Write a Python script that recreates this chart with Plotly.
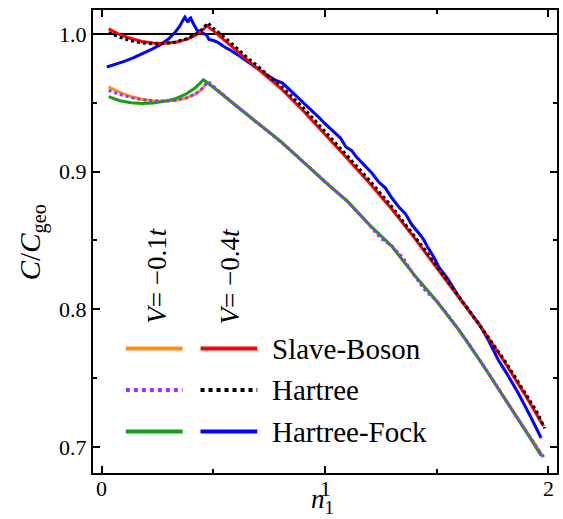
import plotly.graph_objects as go

# ---------------- data ----------------
# V = -0.4t
sb04_x = [0.03, 0.08, 0.13, 0.18, 0.23, 0.28, 0.33, 0.38, 0.42, 0.45, 0.47, 0.50, 0.60, 0.70, 0.80,
          0.90, 1.00, 1.10, 1.20, 1.30, 1.40, 1.50, 1.60, 1.70, 1.80, 1.90, 1.98]
sb04_y = [1.0036, 0.9995, 0.9967, 0.9945, 0.9934, 0.9932, 0.9940, 0.9960, 0.9990, 1.0025, 1.0060, 1.0022,
          0.9884, 0.9745, 0.9607, 0.9446, 0.9272, 0.9095, 0.8915, 0.8726, 0.8520, 0.8305, 0.8088, 0.7869,
          0.7630, 0.7371, 0.7150]

h04_x = [0.03, 0.08, 0.13, 0.18, 0.23, 0.28, 0.33, 0.38, 0.42, 0.45, 0.475, 0.50, 0.55, 0.60, 0.65, 0.70,
         0.75, 0.80, 0.85, 0.90, 0.95, 1.00, 1.05, 1.10, 1.15, 1.20, 1.25, 1.30, 1.35, 1.40, 1.45, 1.50,
         1.55, 1.60, 1.65, 1.70, 1.75, 1.80, 1.85, 1.90, 1.95, 1.985]
h04_y = [1.0010, 0.9975, 0.9950, 0.9935, 0.9928, 0.9930, 0.9942, 0.9965, 0.9998, 1.0035, 1.0080, 1.0040,
         0.9975, 0.9900, 0.9830, 0.9765, 0.9690, 0.9625, 0.9545, 0.9468, 0.9380, 0.9292, 0.9208, 0.9120,
         0.9025, 0.8935, 0.8838, 0.8745, 0.8638, 0.8535, 0.8428, 0.8315, 0.8205, 0.8095, 0.7982, 0.7870,
         0.7755, 0.7640, 0.7515, 0.7385, 0.7255, 0.7135]

hf04_x = [0.022, 0.06, 0.10, 0.14, 0.18, 0.22, 0.26, 0.30, 0.33, 0.35, 0.365, 0.372, 0.38, 0.386, 0.392,
          0.398, 0.405, 0.415, 0.425, 0.44, 0.455, 0.47, 0.48, 0.50, 0.52, 0.55, 0.58, 0.62, 0.66, 0.70,
          0.74, 0.78, 0.81, 0.84, 0.87, 0.90, 0.94, 0.97, 1.00, 1.04, 1.07, 1.094, 1.12, 1.14, 1.18,
          1.21, 1.24, 1.27, 1.30, 1.33, 1.36, 1.39, 1.42, 1.44, 1.46, 1.49, 1.51, 1.55, 1.60, 1.643,
          1.69, 1.732, 1.777, 1.82, 1.866, 1.92, 1.969]
hf04_y = [0.9760, 0.9778, 0.9800, 0.9826, 0.9853, 0.9885, 0.9920, 0.9965, 1.0015, 1.0060, 1.0105, 1.0122,
          1.0098, 1.0085, 1.0110, 1.0116, 1.0090, 1.0060, 1.0030, 1.0010, 1.0003, 0.9990, 0.9960, 0.9952,
          0.9938, 0.9905, 0.9878, 0.9835, 0.9788, 0.9745, 0.9702, 0.9662, 0.9643, 0.9597, 0.9558, 0.9510,
          0.9450, 0.9398, 0.9348, 0.9285, 0.9242, 0.9179, 0.9152, 0.9107, 0.9040, 0.8990, 0.8926, 0.8882,
          0.8808, 0.8745, 0.8695, 0.8612, 0.8554, 0.8512, 0.8452, 0.8372, 0.8307, 0.8222, 0.8090, 0.7995,
          0.7895, 0.7777, 0.7632, 0.7520, 0.7392, 0.7225, 0.7065]

# V = -0.1t
sb01_x = [0.03, 0.08, 0.13, 0.18, 0.23, 0.28, 0.33, 0.38, 0.42, 0.45, 0.47, 0.50, 0.60, 0.70, 0.80,
          0.90, 1.00, 1.10, 1.20, 1.30, 1.40, 1.50, 1.60, 1.70, 1.80, 1.90, 1.98]
sb01_y = [0.9615, 0.9575, 0.9545, 0.9525, 0.9515, 0.9512, 0.9518, 0.9535, 0.9563, 0.9600, 0.9645, 0.9615,
          0.9482, 0.9350, 0.9222, 0.9075, 0.8925, 0.8785, 0.8612, 0.8455, 0.8250, 0.8060, 0.7850, 0.7615,
          0.7368, 0.7115, 0.6925]

h01_x = [0.03, 0.08, 0.13, 0.18, 0.23, 0.28, 0.33, 0.38, 0.42, 0.45, 0.475, 0.50, 0.55, 0.60, 0.65, 0.70,
         0.75, 0.80, 0.85, 0.90, 0.95, 1.00, 1.05, 1.10, 1.15, 1.20, 1.25, 1.30, 1.35, 1.40, 1.45, 1.50,
         1.55, 1.60, 1.65, 1.70, 1.75, 1.80, 1.85, 1.90, 1.95, 1.985]
h01_y = [0.9590, 0.9560, 0.9538, 0.9522, 0.9513, 0.9512, 0.9518, 0.9535, 0.9565, 0.9605, 0.9655, 0.9620,
         0.9545, 0.9480, 0.9415, 0.9350, 0.9285, 0.9222, 0.9150, 0.9075, 0.9000, 0.8925, 0.8855, 0.8785,
         0.8700, 0.8610, 0.8515, 0.8460, 0.8373, 0.8245, 0.8135, 0.8062, 0.7960, 0.7850, 0.7738, 0.7615,
         0.7495, 0.7365, 0.7237, 0.7115, 0.6996, 0.6915]

hf01_x = [0.03, 0.08, 0.13, 0.18, 0.23, 0.28, 0.33, 0.38, 0.42, 0.445, 0.455, 0.47, 0.50, 0.60, 0.70,
          0.80, 0.90, 1.00, 1.10, 1.20, 1.30, 1.40, 1.50, 1.60, 1.70, 1.80, 1.90, 1.97]
hf01_y = [0.9545, 0.9515, 0.9500, 0.9495, 0.9498, 0.9510, 0.9530, 0.9565, 0.9610, 0.9655, 0.9668, 0.9650,
          0.9612, 0.9480, 0.9350, 0.9222, 0.9075, 0.8925, 0.8785, 0.8612, 0.8458, 0.8250, 0.8060, 0.7850,
          0.7615, 0.7368, 0.7115, 0.6935]

REF_LEVEL = 1.0
x_tickvals = [0, 1, 2]
x_ticktext = ["0", "1", "2"]
y_tickvals = [0.7, 0.8, 0.9, 1.0]
y_ticktext = ["0.7", "0.8", "0.9", "1.0"]
legend_labels = ["Slave-Boson", "Hartree", "Hartree-Fock"]
column_labels = ["<i>V</i>= \u22120.1<i>t</i>", "<i>V</i>= \u22120.4<i>t</i>"]

FONT = "'Liberation Serif', 'Times New Roman', Times, 'DejaVu Serif', serif"
ORANGE, RED, PURPLE, BLACK, GREEN, BLUE = "#ff8c1a", "#ff0000", "#9b30ff", "#000000", "#14a014", "#0000ff"

fig = go.Figure()
fig.add_trace(go.Scatter(x=[-0.04, 2.04], y=[REF_LEVEL, REF_LEVEL], mode="lines",
                         line=dict(color="black", width=2), showlegend=False, hoverinfo="skip"))

series = [
    (sb01_x, sb01_y, ORANGE, "solid"),
    (hf01_x, hf01_y, GREEN, "solid"),
    (h01_x, h01_y, PURPLE, "dot"),
    (hf04_x, hf04_y, BLUE, "solid"),
    (sb04_x, sb04_y, RED, "solid"),
    (h04_x, h04_y, BLACK, "dot"),
]
for xs, ys, c, d in series:
    fig.add_trace(go.Scatter(x=xs, y=ys, mode="lines", line=dict(color=c, width=3, dash=d),
                             showlegend=False))

# custom legend
def px_x(p):
    return (p - 93) / 466

def px_y(p):
    return (473 - p) / 463

rows = [(348.5, ORANGE, RED, "solid"), (390, PURPLE, BLACK, "dot"), (431.5, GREEN, BLUE, "solid")]
for (py, c1, c2, d), lab in zip(rows, legend_labels):
    for (a, b), c in (((126, 183), c1), ((201, 258), c2)):
        fig.add_shape(type="line", xref="paper", yref="paper", x0=px_x(a), x1=px_x(b),
                      y0=px_y(py), y1=px_y(py), line=dict(color=c, width=4, dash=d))
    fig.add_annotation(xref="paper", yref="paper", x=px_x(271), y=px_y(py), xanchor="left",
                       yanchor="middle", text=lab, showarrow=False,
                       font=dict(family=FONT, size=29, color="black"))

for cx, lab in zip((157, 231), column_labels):
    fig.add_annotation(xref="paper", yref="paper", x=px_x(cx), y=px_y(276), xanchor="center",
                       yanchor="middle", text=lab, textangle=-90, showarrow=False,
                       font=dict(family=FONT, size=27, color="black"))

# x tick labels placed on the x scale, just under the axis
for v, t in zip(x_tickvals, x_ticktext):
    fig.add_annotation(xref="x", yref="paper", x=v, y=0, yshift=-1, xanchor="center", yanchor="top",
                       text=t, showarrow=False, font=dict(family=FONT, size=22, color="black"))

fig.add_annotation(xref="paper", yref="paper", x=px_x(32), y=px_y(242), xanchor="center",
                   yanchor="middle", text="<i>C</i>/<i>C</i><sub>geo</sub>", textangle=-90,
                   showarrow=False, font=dict(family=FONT, size=29, color="black"))
fig.add_annotation(xref="paper", yref="paper", x=px_x(323), y=0, yshift=-47, xanchor="center",
                   yanchor="bottom", text="<i>n</i><sub>1</sub>",
                   showarrow=False, font=dict(family=FONT, size=27, color="black"))

axis_common = dict(showgrid=False, zeroline=False, showline=True, linecolor="black", linewidth=2,
                   mirror="allticks", ticks="inside", ticklen=7, tickwidth=1.5, tickcolor="black",
                   tickfont=dict(family=FONT, size=22, color="black"))
fig.update_xaxes(range=[-0.04, 2.04], tickvals=x_tickvals, showticklabels=False,
                 minor=dict(tickvals=[0.5, 1.5], ticks="inside", ticklen=4, tickwidth=1.5, tickcolor="black"),
                 **axis_common)
fig.update_yaxes(range=[0.6811, 1.01736], tickvals=y_tickvals, ticktext=y_ticktext,
                 minor=dict(tickvals=[0.75, 0.85, 0.95], ticks="inside", ticklen=4, tickwidth=1.5, tickcolor="black"),
                 **axis_common)

fig.update_layout(width=563, height=519, margin=dict(l=93, r=4, t=10, b=46),
                  plot_bgcolor="white", paper_bgcolor="white",
                  font=dict(family=FONT, color="black"))
fig.write_html("out.html")
